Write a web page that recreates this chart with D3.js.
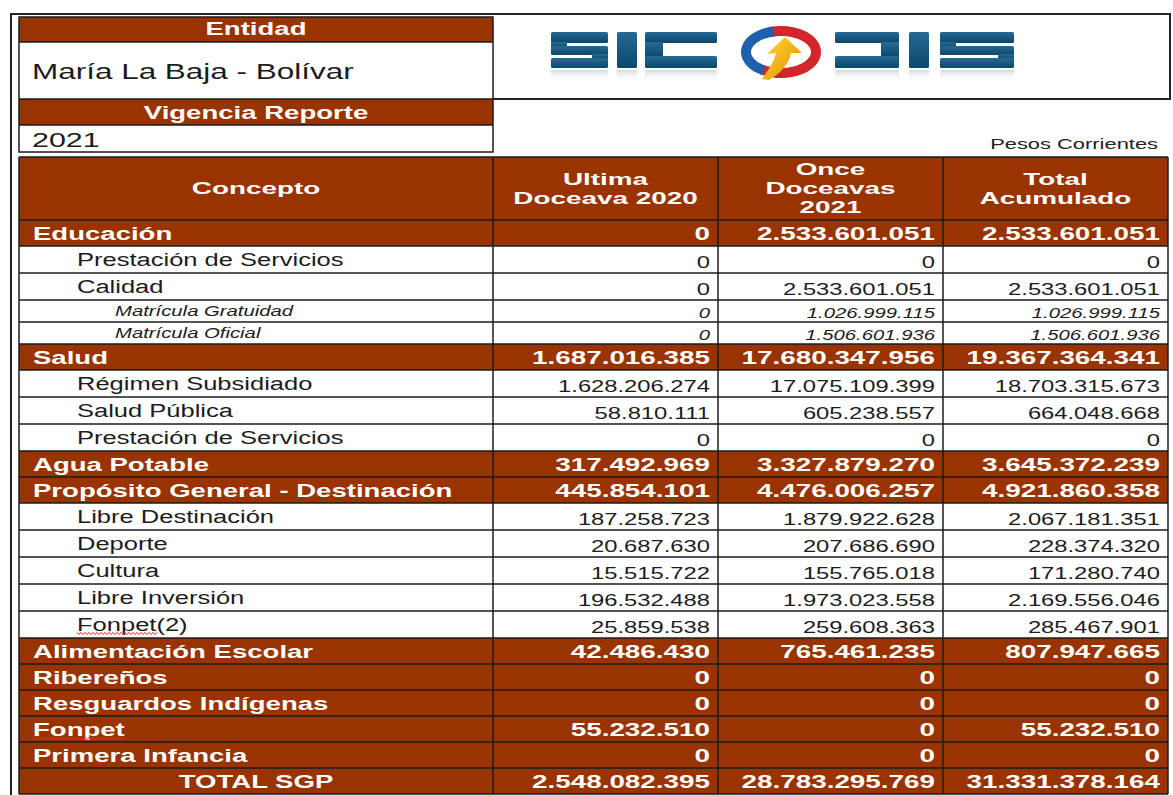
<!DOCTYPE html>
<html>
<head>
<meta charset="utf-8">
<script src="https://cdn.jsdelivr.net/npm/d3@7"></script>
<style>
  body { margin: 0; background: #fff; }
  svg { display: block; }
</style>
</head>
<body>
<svg id="chart" width="1173" height="795"></svg>
<script>
// ---- data ----
var entidad = "María La Baja - Bolívar";
var vigencia = "2021";
var unidad = "Pesos Corrientes";
var colHeaders = [["Concepto"], ["Ultima", "Doceava 2020"], ["Once", "Doceavas", "2021"], ["Total", "Acumulado"]];

var concepts = ["Educación", "Prestación de Servicios", "Calidad", "Matrícula Gratuidad", "Matrícula Oficial",
  "Salud", "Régimen Subsidiado", "Salud Pública", "Prestación de Servicios", "Agua Potable",
  "Propósito General - Destinación", "Libre Destinación", "Deporte", "Cultura", "Libre Inversión", "Fonpet(2)",
  "Alimentación Escolar", "Ribereños", "Resguardos Indígenas", "Fonpet", "Primera Infancia", "TOTAL SGP"];
// 0 = sector, 1 = sub concept, 2 = detail, 3 = total
var levels = [0, 1, 1, 2, 2, 0, 1, 1, 1, 0, 0, 1, 1, 1, 1, 1, 0, 0, 0, 0, 0, 3];

var ultima2020 = [0, 0, 0, 0, 0, 1687016385, 1628206274, 58810111, 0, 317492969, 445854101, 187258723,
  20687630, 15515722, 196532488, 25859538, 42486430, 0, 0, 55232510, 0, 2548082395];
var once2021 = [2533601051, 0, 2533601051, 1026999115, 1506601936, 17680347956, 17075109399, 605238557, 0,
  3327879270, 4476006257, 1879922628, 207686690, 155765018, 1973023558, 259608363, 765461235, 0, 0, 0, 0,
  28783295769];
var totalAcum = [2533601051, 0, 2533601051, 1026999115, 1506601936, 19367364341, 18703315673, 664048668, 0,
  3645372239, 4921860358, 2067181351, 228374320, 171280740, 2169556046, 285467901, 807947665, 0, 0, 55232510,
  0, 31331378164];

// ---- setup ----
var svg = d3.select("#chart");
var brown = "#993300", ink = "#1c1c1c";
var sx = 1.45; // glyphs in the report are stretched horizontally
var FONT = "'Liberation Sans', Arial, Helvetica, sans-serif";

var locale = d3.formatLocale({decimal: ",", thousands: ".", grouping: [3], currency: ["$", ""]});
var fmt = locale.format(",d");

var left = 19, right = 1168, split = 493, headTop = 157, headBottom = 220;
var colX = d3.scaleBand().domain(d3.range(3)).range([split, right]);

var rowH = {0: 26, 1: 27, 2: 22, 3: 26};
var heights = levels.map(function(l) { return rowH[l]; });
var tops = [headBottom].concat(Array.from(d3.cumsum(heights), function(v) { return headBottom + v; }));
var tableBottom = tops[tops.length - 1];

var rows = concepts.map(function(c, i) {
  return {label: c, level: levels[i], vals: [ultima2020[i], once2021[i], totalAcum[i]], y: tops[i], h: heights[i]};
});

var defs = svg.append("defs");

function txt(g, x, y, s, o) {
  return g.append("text")
    .attr("transform", "translate(" + x + "," + y + ") scale(" + (o.sx || sx) + ",1)")
    .attr("text-anchor", o.anchor || "start")
    .attr("font-family", FONT)
    .attr("font-size", o.size)
    .attr("font-weight", o.bold ? "bold" : "normal")
    .attr("font-style", o.italic ? "italic" : "normal")
    .attr("fill", o.fill || ink)
    .text(s);
}

function measure(s, size, bold) {
  var t = svg.append("text").attr("font-family", FONT).attr("font-size", size)
    .attr("font-weight", bold ? "bold" : "normal").text(s);
  var w = t.node().getComputedTextLength();
  t.remove();
  return w * sx;
}

// ---- outer frame ----
svg.append("path")
  .attr("d", "M11,795V14H1170V99H" + split)
  .attr("fill", "none").attr("stroke", "#222").attr("stroke-width", 2);

// ---- entidad block ----
var ent = svg.append("g");
ent.append("rect").attr("x", left).attr("y", 17).attr("width", split - left).attr("height", 25).attr("fill", brown);
ent.append("rect").attr("x", left).attr("y", 99).attr("width", split - left).attr("height", 26).attr("fill", brown);
ent.append("rect").attr("x", left).attr("y", 17).attr("width", split - left).attr("height", 135)
  .attr("fill", "none").attr("stroke", ink).attr("stroke-width", 1.5);
[42, 99, 125].forEach(function(y) {
  ent.append("line").attr("x1", left).attr("x2", split).attr("y1", y).attr("y2", y)
    .attr("stroke", ink).attr("stroke-width", 1.5);
});
txt(ent, (left + split) / 2, 35, "Entidad", {size: 19, bold: true, fill: "#fff", anchor: "middle"});
txt(ent, 32, 79, entidad, {size: 21.7});
txt(ent, (left + split) / 2, 118.5, "Vigencia Reporte", {size: 19, bold: true, fill: "#fff", anchor: "middle"});
txt(ent, 32, 147, vigencia, {size: 21});
txt(svg, 1158, 149, unidad, {size: 15.1, anchor: "end", fill: "#222"});

// ---- logo ----
var logo = svg.append("g");
var lg = defs.append("linearGradient").attr("id", "letter").attr("x1", 0).attr("y1", 0).attr("x2", 0).attr("y2", 1);
lg.append("stop").attr("offset", 0).attr("stop-color", "#266a93");
lg.append("stop").attr("offset", 1).attr("stop-color", "#0d476c");
var rg = defs.append("linearGradient").attr("id", "refl").attr("x1", 0).attr("y1", 0).attr("x2", 0).attr("y2", 1);
rg.append("stop").attr("offset", 0).attr("stop-color", "#b9c0c6").attr("stop-opacity", 0.6);
rg.append("stop").attr("offset", 1).attr("stop-color", "#ffffff").attr("stop-opacity", 0);
var ag = defs.append("linearGradient").attr("id", "arrow").attr("x1", 0).attr("y1", 0).attr("x2", 1).attr("y2", 1);
ag.append("stop").attr("offset", 0).attr("stop-color", "#ffd936");
ag.append("stop").attr("offset", 1).attr("stop-color", "#e38d00");

var LT = 32, LH = 36;
function block(x, y, w, h) {
  logo.append("rect").attr("x", x).attr("y", y).attr("width", w).attr("height", h)
    .attr("rx", 1.5).attr("fill", "url(#letter)");
}
function letterS(x, w) {
  block(x, LT, w, 11); block(x, LT + 10, 16, 6); block(x, LT + 14, w, 9);
  block(x + w - 16, LT + 22, 16, 6); block(x, LT + 26, w, 10);
}
function letterC(x, w) { block(x, LT, w, 11); block(x, LT + 10, 18, 16); block(x, LT + 24, w, 12); }
function letterD(x, w) { block(x, LT, w, 11); block(x + w - 18, LT + 10, 18, 16); block(x, LT + 24, w, 12); }
function letterI(x) { block(x, LT, 20, LH); }

[[551, 57], [617, 20], [645, 72], [835, 64], [909, 20], [940, 74]].forEach(function(d) {
  logo.append("rect").attr("x", d[0]).attr("y", LT + LH + 2).attr("width", d[1]).attr("height", 12)
    .attr("fill", "url(#refl)");
});
letterS(551, 57); letterI(617); letterC(645, 72);
letterD(835, 64); letterI(909); letterS(940, 74);

var cx = 781, cy = 52, rx = 35, ry = 21;
var ring = d3.line().curve(d3.curveCardinal)
  .x(function(a) { return cx + rx * Math.cos(a); })
  .y(function(a) { return cy + ry * Math.sin(a); });
var deg = Math.PI / 180;
logo.append("path").attr("d", ring(d3.range(250, 490, 6).map(function(a) { return a * deg; })))
  .attr("fill", "none").attr("stroke", "#d3262b").attr("stroke-width", 10);
logo.append("path").attr("d", ring(d3.range(120, 262, 6).map(function(a) { return a * deg; })))
  .attr("fill", "none").attr("stroke", "#1e60ad").attr("stroke-width", 10);
logo.append("path")
  .attr("d", "M762,79 C768,70 774,62 776,53 L767,54 L785,37 L802,53 L791,53 C789,64 780,74 769,80 Z")
  .attr("fill", "url(#arrow)");

// ---- column header ----
var head = svg.append("g");
head.append("rect").attr("x", left).attr("y", headTop).attr("width", right - left)
  .attr("height", headBottom - headTop).attr("fill", brown);
var headCx = [(left + split) / 2].concat(d3.range(3).map(function(j) { return colX(j) + colX.bandwidth() / 2; }));
colHeaders.forEach(function(lines, j) {
  var mid = 187.5, lh = 19;
  lines.forEach(function(s, k) {
    txt(head, headCx[j], mid - (lines.length - 1) * lh / 2 + k * lh + 6.5, s,
      {size: 17, sx: 1.64, bold: true, fill: "#fff", anchor: "middle"});
  });
});

// ---- body rows ----
var body = svg.append("g");
var indent = {0: 14, 1: 58, 2: 96};
rows.forEach(function(r) {
  var strong = r.level === 0 || r.level === 3;
  var c = r.y + r.h / 2;
  if (strong) body.append("rect").attr("x", left).attr("y", r.y).attr("width", right - left)
    .attr("height", r.h).attr("fill", brown);

  var lab = strong ? {size: 19, bold: true, fill: "#fff", dy: 6.5}
    : r.level === 1 ? {size: 17.6, dy: 6} : {size: 14, italic: true, dy: 5};
  var num = strong ? {size: 19.2, bold: true, fill: "#fff", dy: 6.5}
    : r.level === 1 ? {size: 16.4, dy: 8} : {size: 14, italic: true, dy: 6.5};

  var lx = r.level === 3 ? (left + split) / 2 : left + indent[r.level];
  lab.anchor = r.level === 3 ? "middle" : "start";
  txt(body, lx, c + lab.dy, r.label, lab);

  // spell-check squiggle under "Fonpet"
  if (r.label.indexOf("Fonpet") === 0) {
    var w = measure("Fonpet", lab.size, lab.bold), y0 = c + lab.dy + 3;
    var pts = d3.range(0, Math.round(w / 2) + 1).map(function(i) { return [lx + i * 2, y0 + (i % 2 ? 1.2 : -1.2)]; });
    body.append("path").attr("d", d3.line()(pts)).attr("fill", "none")
      .attr("stroke", "#e0302c").attr("stroke-width", 1);
  }

  num.anchor = "end";
  r.vals.forEach(function(v, j) {
    txt(body, colX(j) + colX.bandwidth() - 8, c + num.dy, fmt(v), num);
  });
});

// ---- grid ----
var grid = svg.append("g").attr("stroke", ink).attr("stroke-width", 1.5);
tops.forEach(function(y) {
  grid.append("line").attr("x1", left).attr("x2", right).attr("y1", y).attr("y2", y);
});
grid.append("line").attr("x1", left).attr("x2", right).attr("y1", headTop).attr("y2", headTop);
[left, split, colX(1), colX(2), right].forEach(function(x) {
  grid.append("line").attr("x1", x).attr("x2", x).attr("y1", headTop).attr("y2", tableBottom);
});
</script>
</body>
</html>
